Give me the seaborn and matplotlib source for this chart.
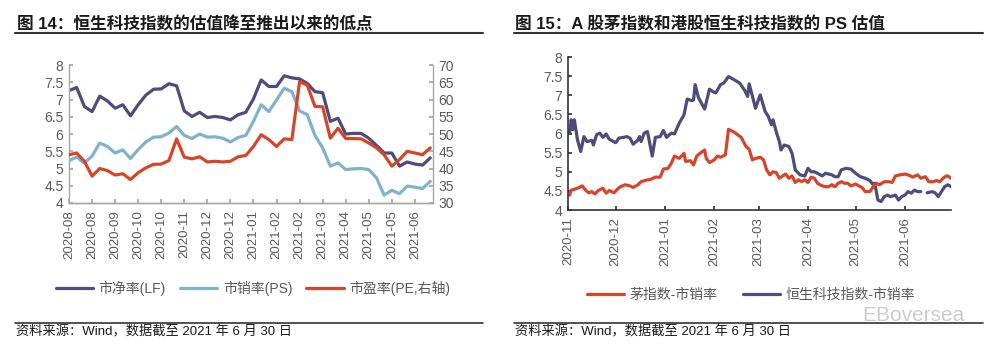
import numpy as np
import pandas as pd
import matplotlib
matplotlib.use('Agg')
import matplotlib.pyplot as plt
import matplotlib.dates as mdates
from matplotlib.lines import Line2D
import seaborn as sns

# ---------------- data: figure 14 (weekly) ----------------
week_start = '2020-08-02'
n_weeks = 48
hstech_pb = [7.26, 7.35, 6.80, 6.65, 7.10, 6.96, 6.75, 6.85, 6.53, 6.85, 7.13, 7.30,
             7.31, 7.46, 7.40, 6.67, 6.51, 6.63, 6.48, 6.51, 6.48, 6.41, 6.56, 6.63,
             7.02, 7.57, 7.38, 7.38, 7.69, 7.63, 7.60, 7.47, 7.23, 7.20, 6.37, 6.46,
             6.00, 6.02, 6.02, 5.88, 5.67, 5.45, 5.45, 5.07, 5.19, 5.13, 5.10, 5.31]
hstech_ps_w = [5.23, 5.33, 5.16, 5.36, 5.74, 5.64, 5.45, 5.54, 5.29, 5.55, 5.77, 5.91,
               5.92, 6.03, 6.22, 5.96, 5.87, 6.00, 5.91, 5.92, 5.88, 5.77, 5.90, 5.96,
               6.37, 6.85, 6.65, 6.99, 7.33, 7.23, 6.67, 6.56, 5.96, 5.60, 5.07, 5.16,
               4.97, 4.99, 5.00, 4.97, 4.73, 4.23, 4.37, 4.27, 4.49, 4.46, 4.42, 4.63]
hstech_pe = [44.0, 44.5, 42.1, 37.8, 40.0, 39.4, 38.1, 38.5, 36.8, 38.8, 40.2, 41.2,
             41.3, 42.3, 48.6, 43.3, 42.8, 43.4, 41.9, 42.1, 41.9, 42.1, 43.4, 43.8,
             46.4, 49.8, 48.4, 46.4, 48.6, 48.4, 65.2, 64.2, 58.0, 57.9, 48.8, 51.7,
             48.7, 48.7, 48.6, 47.4, 46.0, 44.0, 40.7, 42.6, 45.0, 44.5, 44.0, 46.0]
left_labels = ['市净率(LF)', '市销率(PS)', '市盈率(PE,右轴)']

# ---------------- data: figure 15 (daily-ish) ----------------
hs_dates = ['2020-11-02', '2020-11-03', '2020-11-04', '2020-11-05', '2020-11-07', '2020-11-09',
            '2020-11-11', '2020-11-13', '2020-11-16', '2020-11-17', '2020-11-19', '2020-11-21',
            '2020-11-23', '2020-11-25', '2020-11-27', '2020-12-01', '2020-12-03', '2020-12-06',
            '2020-12-08', '2020-12-10', '2020-12-12', '2020-12-15', '2020-12-16', '2020-12-17',
            '2020-12-19', '2020-12-21', '2020-12-24', '2020-12-26', '2020-12-29', '2020-12-31',
            '2021-01-02', '2021-01-05', '2021-01-07', '2021-01-10', '2021-01-13', '2021-01-15',
            '2021-01-18', '2021-01-19', '2021-01-20', '2021-01-22', '2021-01-24', '2021-01-26',
            '2021-01-29', '2021-01-31', '2021-02-02', '2021-02-05', '2021-02-07', '2021-02-10',
            '2021-02-13', '2021-02-17', '2021-02-20', '2021-02-22', '2021-02-23', '2021-02-25',
            '2021-02-27', '2021-03-01', '2021-03-02', '2021-03-05', '2021-03-07', '2021-03-09',
            '2021-03-10', '2021-03-12', '2021-03-14', '2021-03-15', '2021-03-17', '2021-03-20',
            '2021-03-22', '2021-03-24', '2021-03-27', '2021-03-30', '2021-04-01', '2021-04-03',
            '2021-04-05', '2021-04-07', '2021-04-10', '2021-04-12', '2021-04-14', '2021-04-16',
            '2021-04-18', '2021-04-20', '2021-04-22', '2021-04-25', '2021-04-28', '2021-05-01',
            '2021-05-04', '2021-05-07', '2021-05-10', '2021-05-12', '2021-05-13', '2021-05-15',
            '2021-05-17', '2021-05-19', '2021-05-21', '2021-05-23', '2021-05-26', '2021-05-28',
            '2021-05-30', '2021-06-01', '2021-06-03', '2021-06-05', '2021-06-07', '2021-06-09',
            '2021-06-11', '2021-06-13', '2021-06-15', '2021-06-18', '2021-06-20', '2021-06-22',
            '2021-06-24', '2021-06-26', '2021-06-28', '2021-06-30']
hs_ps = [6.01, 6.36, 6.10, 6.36, 5.83, 5.53, 5.92, 5.79, 5.82, 5.70, 5.97, 6.01,
         5.90, 5.99, 5.85, 5.76, 5.88, 5.90, 5.92, 5.88, 5.72, 5.83, 5.92, 5.79,
         6.01, 6.05, 5.41, 5.90, 5.92, 6.08, 5.90, 6.01, 5.99, 6.27, 6.49, 6.90,
         6.86, 6.88, 7.28, 6.95, 6.79, 6.64, 7.16, 7.10, 7.06, 7.28, 7.32, 7.49,
         7.42, 7.32, 7.14, 6.97, 7.30, 6.98, 6.66, 6.90, 7.01, 6.58, 6.45, 6.23,
         6.36, 6.05, 5.79, 5.57, 5.70, 5.66, 5.48, 5.05, 4.92, 4.89, 5.09, 5.00,
         5.00, 4.96, 4.89, 4.96, 4.94, 4.92, 4.87, 4.87, 5.05, 5.09, 5.07, 4.96,
         4.87, 4.83, 4.77, 4.66, 4.70, 4.26, 4.22, 4.35, 4.39, 4.35, 4.39, 4.26,
         4.35, 4.39, 4.48, 4.44, 4.52, 4.48, 4.48, np.nan, 4.45, 4.48, 4.45, 4.35,
         4.48, 4.61, 4.66, 4.61]
mao_dates = ['2020-11-02', '2020-11-03', '2020-11-05', '2020-11-08', '2020-11-10', '2020-11-12',
             '2020-11-14', '2020-11-16', '2020-11-18', '2020-11-20', '2020-11-23', '2020-11-25',
             '2020-11-27', '2020-11-30', '2020-12-02', '2020-12-04', '2020-12-07', '2020-12-10',
             '2020-12-12', '2020-12-15', '2020-12-17', '2020-12-21', '2020-12-23', '2020-12-26',
             '2020-12-29', '2020-12-31', '2021-01-03', '2021-01-05', '2021-01-07', '2021-01-10',
             '2021-01-13', '2021-01-14', '2021-01-17', '2021-01-19', '2021-01-21', '2021-01-23',
             '2021-01-26', '2021-01-27', '2021-01-29', '2021-02-01', '2021-02-03', '2021-02-05',
             '2021-02-08', '2021-02-10', '2021-02-13', '2021-02-18', '2021-02-21', '2021-02-23',
             '2021-02-25', '2021-02-27', '2021-03-02', '2021-03-04', '2021-03-06', '2021-03-08',
             '2021-03-10', '2021-03-12', '2021-03-14', '2021-03-16', '2021-03-18', '2021-03-20',
             '2021-03-22', '2021-03-24', '2021-03-26', '2021-03-28', '2021-03-30', '2021-04-01',
             '2021-04-03', '2021-04-05', '2021-04-07', '2021-04-10', '2021-04-12', '2021-04-14',
             '2021-04-16', '2021-04-18', '2021-04-20', '2021-04-22', '2021-04-24', '2021-04-26',
             '2021-04-28', '2021-05-01', '2021-05-03', '2021-05-05', '2021-05-07', '2021-05-10',
             '2021-05-12', '2021-05-14', '2021-05-16', '2021-05-19', '2021-05-22', '2021-05-24',
             '2021-05-26', '2021-05-29', '2021-06-01', '2021-06-03', '2021-06-06', '2021-06-09',
             '2021-06-11', '2021-06-14', '2021-06-16', '2021-06-19', '2021-06-21', '2021-06-23',
             '2021-06-25', '2021-06-27', '2021-06-28', '2021-06-30']
mao_ps = [4.39, 4.52, 4.54, 4.59, 4.63, 4.52, 4.45, 4.48, 4.42, 4.51, 4.57, 4.44,
          4.51, 4.45, 4.54, 4.61, 4.66, 4.63, 4.59, 4.66, 4.74, 4.79, 4.80, 4.86,
          4.86, 5.07, 5.09, 5.22, 5.41, 5.35, 5.48, 5.27, 5.29, 5.18, 5.41, 5.48,
          5.57, 5.35, 5.24, 5.31, 5.41, 5.38, 5.44, 6.11, 6.05, 5.90, 5.66, 5.59,
          5.31, 5.35, 5.38, 5.31, 5.05, 4.92, 5.00, 4.98, 4.83, 4.89, 4.94, 4.83,
          4.89, 4.72, 4.79, 4.74, 4.79, 4.72, 4.86, 4.83, 4.70, 4.63, 4.61, 4.61,
          4.66, 4.61, 4.70, 4.74, 4.70, 4.70, 4.63, 4.68, 4.63, 4.59, 4.48, 4.48,
          4.61, 4.70, 4.66, 4.74, 4.74, 4.72, 4.89, 4.92, 4.94, 4.92, 4.86, 4.92,
          4.83, 4.87, 4.74, 4.74, 4.77, 4.74, 4.83, 4.89, 4.89, 4.83]
right_labels = ['茅指数-市销率', '恒生科技指数-市销率']

# ---------------- styling ----------------
sns.set_theme(style='white')
plt.rcParams['font.family'] = ['Liberation Sans', 'Noto Sans CJK SC', 'DejaVu Sans']
plt.rcParams['axes.unicode_minus'] = False

C_DARK = '#4E4C7A'
C_BLUE = '#80B3C9'
C_RED = '#D6452A'
C_TXT = '#595959'
LW = 2.3

fig = plt.figure(figsize=(10, 3.5), dpi=100)

# ---------------- left chart ----------------
wk = pd.date_range(week_start, periods=n_weeks, freq='7D')
dfl = pd.DataFrame({'date': wk, 'pb': hstech_pb, 'ps': hstech_ps_w, 'pe': hstech_pe})

axL = fig.add_axes([0.069, 0.42, 0.364, 0.394])
sns.lineplot(data=dfl, x='date', y='pb', ax=axL, color=C_DARK, lw=LW)
sns.lineplot(data=dfl, x='date', y='ps', ax=axL, color=C_BLUE, lw=LW)
axR = axL.twinx()
sns.lineplot(data=dfl, x='date', y='pe', ax=axR, color=C_RED, lw=LW)

axL.set_ylim(4, 8)
axL.set_yticks(np.arange(4, 8.01, 0.5))
axL.set_yticklabels([f'{v:g}' for v in np.arange(4, 8.01, 0.5)])
axR.set_ylim(30, 70)
axR.set_yticks(np.arange(30, 71, 5))
axL.set_xlim(wk[0], wk[-1] + pd.Timedelta(days=2.5))
axL.set_xticks(wk[::3])
axL.xaxis.set_major_formatter(mdates.DateFormatter('%Y-%m'))
for a in (axL, axR):
    a.set_xlabel('')
    a.set_ylabel('')
    a.spines['top'].set_visible(False)
    for s in a.spines.values():
        s.set_color('#A6A6A6')
        s.set_linewidth(1.0)
axL.spines['right'].set_visible(False)
axR.spines['left'].set_visible(False)
axL.tick_params(axis='y', direction='in', length=3, color='#A6A6A6', labelsize=10,
                labelcolor=C_TXT, pad=4, left=True)
axR.tick_params(axis='y', direction='in', length=3, color='#A6A6A6', labelsize=10,
                labelcolor=C_TXT, pad=4, right=True)
axL.tick_params(axis='x', direction='in', length=3, color='#A6A6A6', labelsize=9.5,
                labelcolor=C_TXT, rotation=90, pad=5, bottom=True)

hL = [Line2D([], [], color=c, lw=LW) for c in (C_DARK, C_BLUE, C_RED)]
legL = fig.legend(hL, left_labels, loc='center', bbox_to_anchor=(0.253, 0.177), ncol=3,
                  frameon=False, fontsize=10, handlelength=2.7, handletextpad=0.4,
                  columnspacing=1.0)
for t in legL.get_texts():
    t.set_color(C_TXT)

# ---------------- right chart ----------------
dfh = pd.DataFrame({'date': pd.to_datetime(hs_dates), 'ps': hs_ps})
dfh['seg'] = dfh['ps'].isna().cumsum()
dfh = dfh.dropna()
dfm = pd.DataFrame({'date': pd.to_datetime(mao_dates), 'ps': mao_ps})

ax2 = fig.add_axes([0.568, 0.40, 0.383, 0.437])
sns.lineplot(data=dfh, x='date', y='ps', units='seg', estimator=None, ax=ax2,
             color=C_DARK, lw=LW)
sns.lineplot(data=dfm, x='date', y='ps', ax=ax2, color=C_RED, lw=LW)
ax2.set_ylim(4, 8)
ax2.set_yticks(np.arange(4, 8.01, 0.5))
ax2.set_yticklabels([f'{v:g}' for v in np.arange(4, 8.01, 0.5)])
ax2.set_xlim(pd.Timestamp('2020-11-01'), pd.Timestamp('2021-06-30'))
ax2.xaxis.set_major_locator(mdates.MonthLocator())
ax2.xaxis.set_major_formatter(mdates.DateFormatter('%Y-%m'))
ax2.set_xlabel('')
ax2.set_ylabel('')
ax2.spines['top'].set_visible(False)
ax2.spines['right'].set_visible(False)
for s in ('left', 'bottom'):
    ax2.spines[s].set_color('#333333')
    ax2.spines[s].set_linewidth(1.2)
ax2.tick_params(axis='y', direction='in', length=3, color='#333333', labelsize=10,
                labelcolor=C_TXT, pad=4, left=True)
ax2.tick_params(axis='x', direction='in', length=3, color='#333333', labelsize=9.5,
                labelcolor=C_TXT, rotation=90, pad=5, bottom=True)

hR = [Line2D([], [], color=c, lw=LW) for c in (C_RED, C_DARK)]
legR = fig.legend(hR, right_labels, loc='center', bbox_to_anchor=(0.751, 0.157), ncol=2,
                  frameon=False, fontsize=10, handlelength=2.7, handletextpad=0.4,
                  columnspacing=1.8)
for t in legR.get_texts():
    t.set_color(C_TXT)

# ---------------- titles, rules, footers ----------------
fig.text(0.017, 0.931, '图 14：恒生科技指数的估值降至推出以来的低点', fontsize=12,
         fontweight='bold', color='#1a1a1a', va='center', ha='left')
fig.text(0.515, 0.931, '图 15：A 股茅指数和港股恒生科技指数的 PS 估值', fontsize=12,
         fontweight='bold', color='#1a1a1a', va='center', ha='left')
for x0, x1 in ((0.015, 0.483), (0.514, 0.983)):
    fig.add_artist(Line2D([x0, x1], [0.905, 0.905], color='#333333', lw=1.5))
    fig.add_artist(Line2D([x0, x1], [0.077, 0.077], color='#333333', lw=1.2))
fig.text(0.016, 0.051, '资料来源：Wind，数据截至 2021 年 6 月 30 日', fontsize=9.5,
         color='#1a1a1a', va='center', ha='left')
fig.text(0.515, 0.051, '资料来源：Wind，数据截至 2021 年 6 月 30 日', fontsize=9.5,
         color='#1a1a1a', va='center', ha='left')
fig.text(0.965, 0.098, 'EBoversea', fontsize=15, color='#9a9a9a', alpha=0.5,
         ha='right', va='center', fontweight='light')

fig.savefig('out.png', dpi=100)
